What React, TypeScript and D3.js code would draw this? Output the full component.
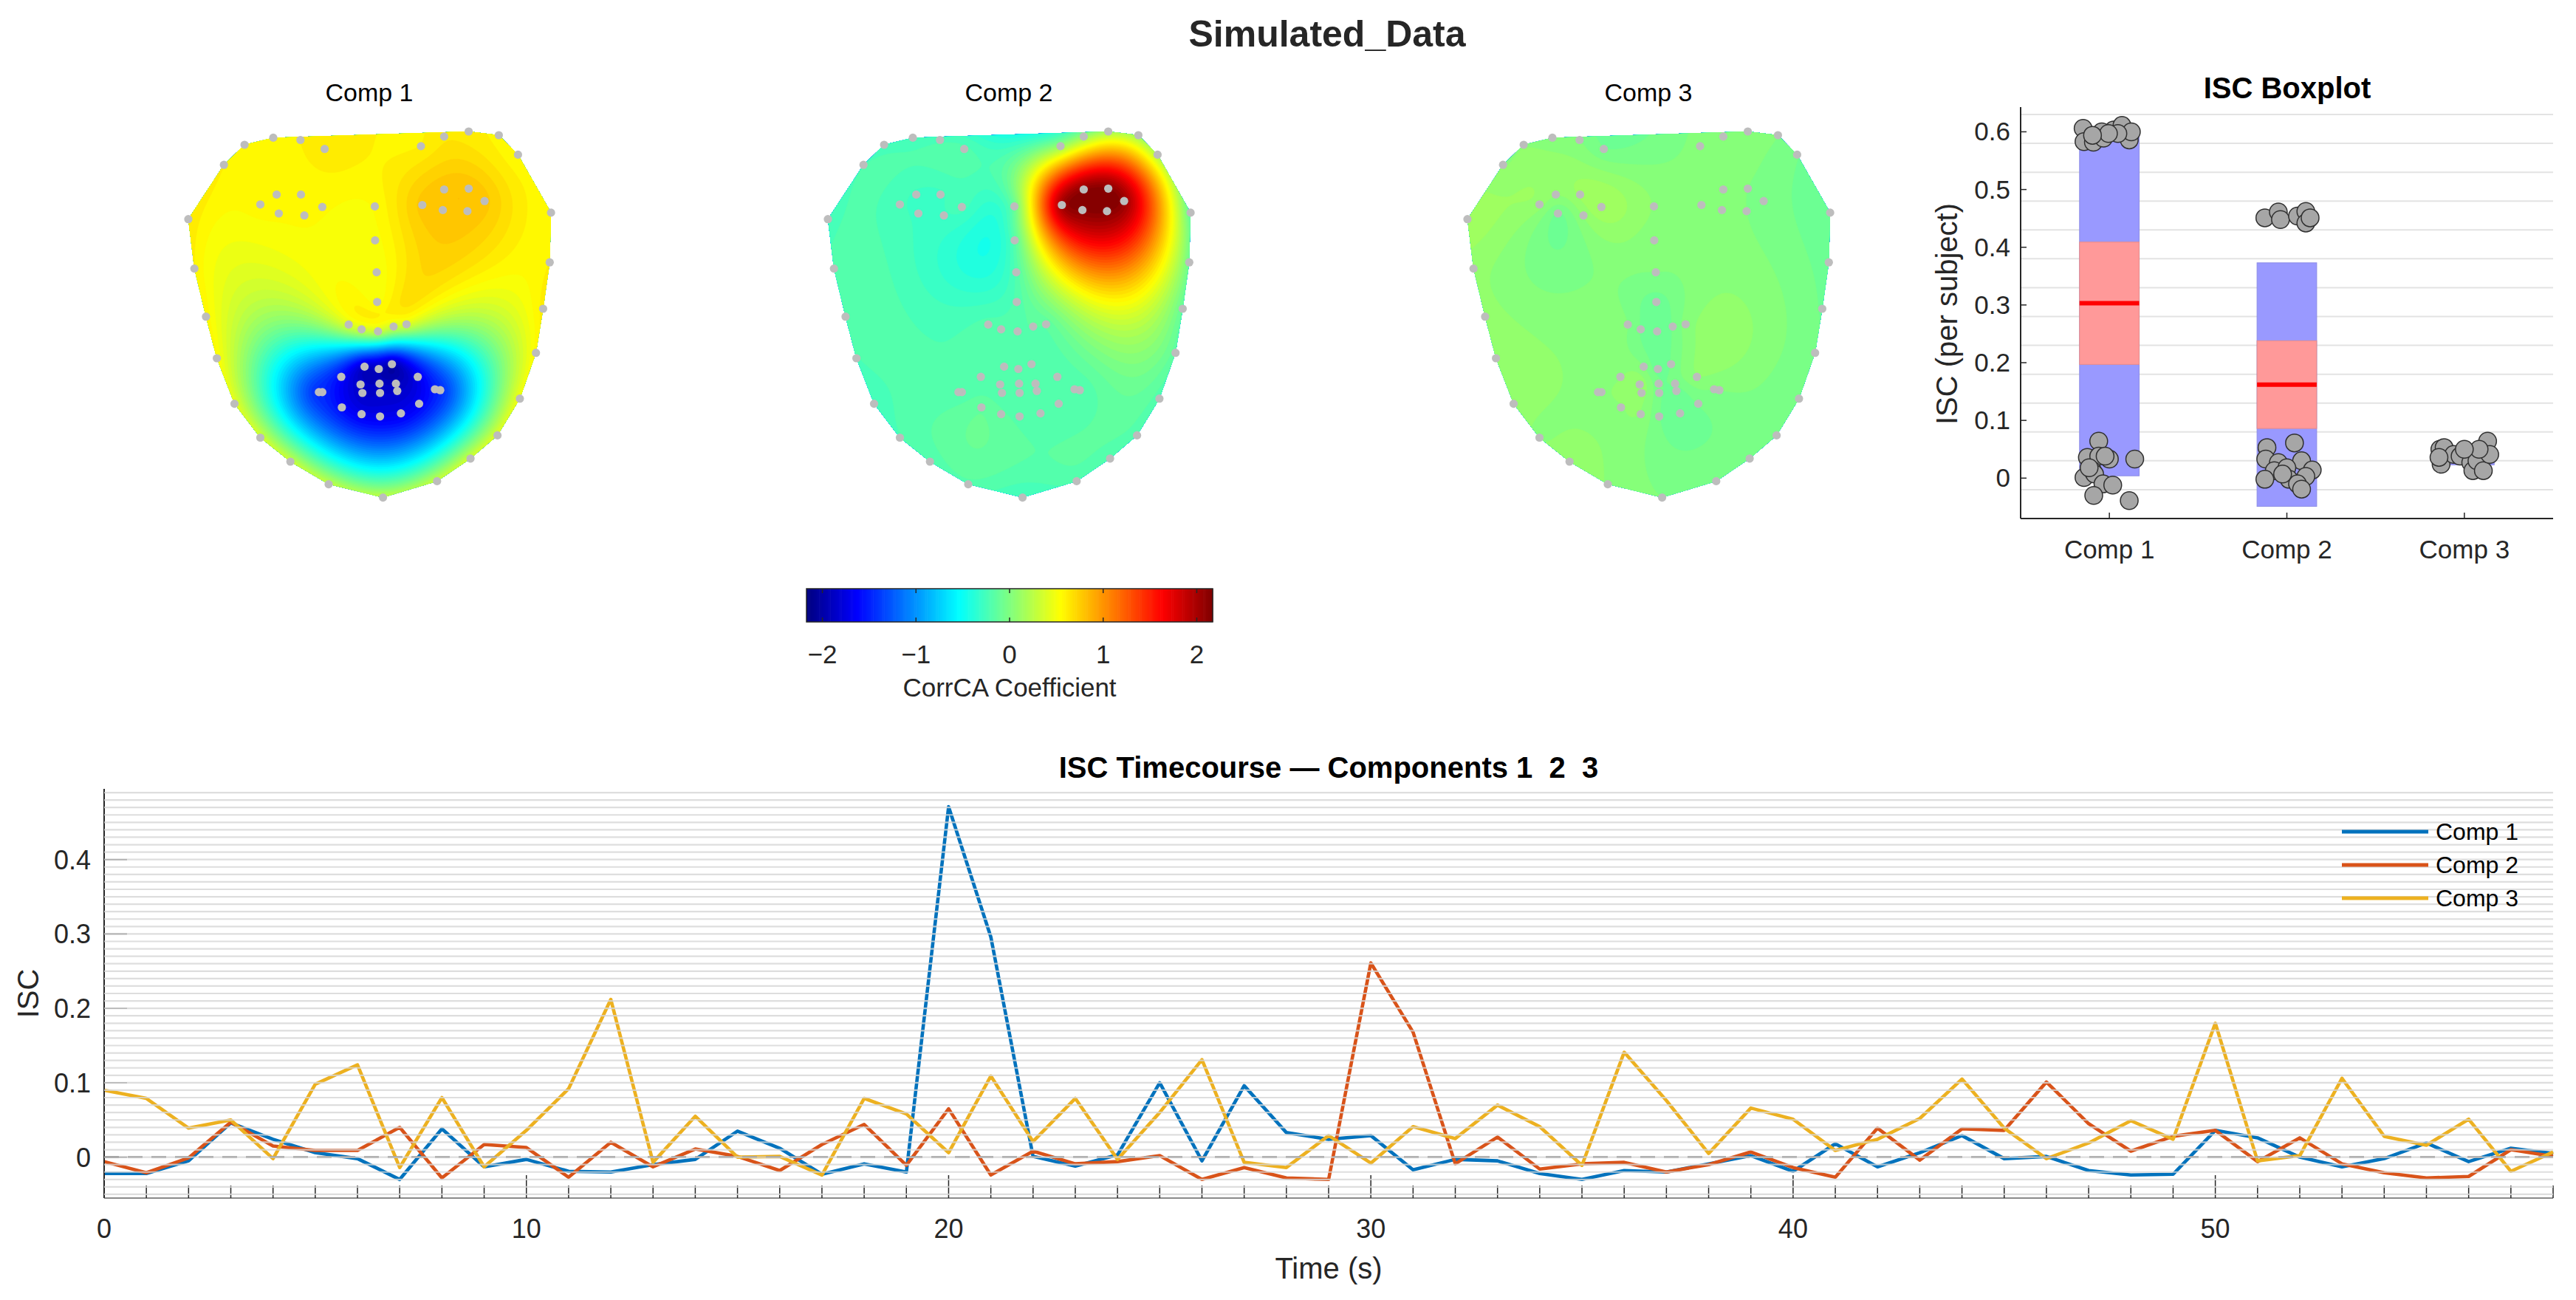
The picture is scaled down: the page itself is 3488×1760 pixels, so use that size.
import React, { useMemo } from 'react';
import * as d3 from 'd3';

// ---------------- DATA ----------------
// Facial landmark layout (68 points), in face units
const FACE_X = [25.0, 33.2, 48.9, 63.6, 87.5, 122.5, 163.2, 215.0, 288.6, 361.8, 407.1, 443.6, 473.9, 495.7, 505.4, 514.3, 516.1,
  73.2, 101.1, 140.0, 176.8, 209.6, 340.0, 371.4, 404.6, 445.4, 471.4,
  277.5, 277.9, 280.0, 280.7, 242.1, 259.6, 281.8, 302.9, 320.4,
  122.5, 144.6, 177.5, 206.4, 182.1, 147.5, 341.8, 371.4, 404.6, 426.1, 402.9, 369.6,
  206.4, 232.1, 263.6, 282.9, 300.7, 335.7, 366.1, 337.5, 312.9, 284.6, 259.6, 232.9,
  201.8, 258.2, 283.9, 306.1, 358.9, 307.9, 284.6, 260.7];
const FACE_Y = [206.7, 273.6, 338.7, 395.0, 456.6, 502.5, 535.0, 565.6, 583.6, 561.4, 530.8, 499.4, 449.7, 387.7, 328.0, 265.2, 197.9,
  133.2, 106.0, 96.4, 99.5, 111.7, 107.9, 94.9, 88.0, 93.0, 119.4,
  189.4, 235.4, 278.6, 318.8, 349.4, 355.9, 358.6, 352.1, 349.0,
  186.8, 173.4, 173.4, 190.2, 201.7, 199.0, 187.5, 166.5, 165.3, 182.2, 195.9, 194.4,
  440.9, 420.2, 406.4, 409.5, 403.0, 420.2, 438.2, 456.6, 469.6, 473.8, 470.7, 461.5,
  440.9, 430.5, 429.4, 429.4, 437.0, 439.3, 442.0, 442.0];

const FACE_COMP1 = [0.66, 0.6, 0.58, 0.55, 0.45, 0.38, 0.33, 0.3, 0.3, 0.32, 0.36, 0.42, 0.5, 0.57, 0.62, 0.6, 0.58,
  0.6, 0.58, 0.58, 0.6, 0.64, 0.6, 0.64, 0.62, 0.58, 0.56,
  0.55, 0.52, 0.5, 0.52, 0.38, 0.33, 0.3, 0.33, 0.38,
  0.56, 0.55, 0.55, 0.55, 0.55, 0.55, 0.78, 0.8, 0.8, 0.78, 0.8, 0.8,
  -1.45, -1.6, -1.85, -1.9, -1.95, -1.7, -1.45, -1.65, -1.7, -1.7, -1.7, -1.6,
  -1.45, -1.85, -1.9, -1.9, -1.5, -1.85, -1.85, -1.85];
const FACE_COMP2 = [-0.25, -0.2, -0.2, -0.22, -0.25, -0.22, -0.2, -0.18, -0.28, -0.2, -0.2, -0.2, -0.2, -0.15, -0.12, -0.08, -0.15,
  -0.22, -0.25, -0.26, -0.23, -0.2, 0.1, 0.1, 0.15, 0.1, 0.2,
  -0.1, -0.18, -0.2, -0.2, -0.2, -0.2, -0.18, -0.16, -0.15,
  -0.26, -0.28, -0.28, -0.25, -0.28, -0.28, 2.0, 2.1, 2.12, 2.05, 2.12, 2.12,
  -0.2, -0.2, -0.2, -0.2, -0.2, -0.2, -0.2, -0.2, -0.2, -0.18, -0.15, -0.12,
  -0.2, -0.2, -0.2, -0.2, -0.2, -0.2, -0.2, -0.2];
const FACE_COMP3 = [0.15, 0.08, 0.08, 0.1, 0.08, 0.05, 0.08, 0.05, 0.0, 0.0, -0.02, -0.02, -0.05, -0.05, -0.06, -0.08, -0.1,
  0.05, 0.05, 0.02, 0.0, -0.05, 0.02, 0.05, 0.02, 0.0, -0.05,
  0.05, 0.02, 0.0, -0.08, 0.0, -0.06, -0.1, -0.05, 0.02,
  0.08, 0.06, 0.12, 0.15, 0.06, -0.06, 0.02, 0.02, 0.0, -0.02, 0.0, 0.02,
  0.05, 0.05, 0.0, -0.08, -0.05, 0.05, 0.0, -0.05, -0.1, -0.05, 0.05, 0.05,
  0.05, 0.1, -0.04, -0.04, 0.0, -0.08, -0.04, 0.08];
const FACE_TITLES = ['Comp 1', 'Comp 2', 'Comp 3'];
const COLOR_LIMITS = [-2.17, 2.17];
const CBAR_TICKS = [-2, -1, 0, 1, 2];

// ISC timecourse
const TIME_S = [0, 1, 2, 3, 4, 5, 6, 7, 8, 9, 10, 11, 12, 13, 14, 15, 16, 17, 18, 19, 20, 21, 22, 23, 24, 25, 26, 27, 28, 29,
  30, 31, 32, 33, 34, 35, 36, 37, 38, 39, 40, 41, 42, 43, 44, 45, 46, 47, 48, 49, 50, 51, 52, 53, 54, 55, 56, 57, 58];
const ISC_COMP1 = [-0.022, -0.022, -0.005, 0.046, 0.024, 0.006, -0.002, -0.030, 0.038, -0.013, -0.003, -0.019, -0.020, -0.010,
  -0.003, 0.035, 0.012, -0.023, -0.009, -0.020, 0.471, 0.296, 0.001, -0.012, 0.003, 0.100, -0.005, 0.096, 0.033, 0.024,
  0.029, -0.017, -0.003, -0.005, -0.022, -0.030, -0.018, -0.020, -0.009, 0.002, -0.019, 0.018, -0.013, 0.006, 0.029,
  -0.002, 0.001, -0.018, -0.024, -0.023, 0.036, 0.026, 0.000, -0.013, -0.002, 0.019, -0.006, 0.012, 0.005];
const ISC_COMP2 = [-0.006, -0.021, -0.001, 0.047, 0.015, 0.009, 0.009, 0.040, -0.028, 0.017, 0.013, -0.027, 0.020, -0.013,
  0.011, 0.001, -0.018, 0.017, 0.044, -0.011, 0.065, -0.024, 0.008, -0.009, -0.006, 0.002, -0.030, -0.014, -0.028, -0.030,
  0.261, 0.168, -0.009, 0.027, -0.016, -0.009, -0.007, -0.020, -0.010, 0.007, -0.014, -0.027, 0.039, -0.004, 0.038,
  0.036, 0.101, 0.045, 0.008, 0.028, 0.036, -0.006, 0.026, -0.009, -0.021, -0.028, -0.026, 0.010, 0.001];
const ISC_COMP3 = [0.090, 0.079, 0.039, 0.050, -0.002, 0.098, 0.124, -0.014, 0.080, -0.013, 0.036, 0.092, 0.212, -0.007,
  0.055, 0.000, 0.001, -0.024, 0.079, 0.058, 0.006, 0.109, 0.021, 0.079, -0.003, 0.060, 0.131, -0.007, -0.014, 0.029,
  -0.008, 0.041, 0.025, 0.070, 0.041, -0.011, 0.141, 0.076, 0.005, 0.066, 0.051, 0.009, 0.024, 0.052, 0.105,
  0.039, -0.002, 0.019, 0.049, 0.024, 0.180, -0.005, 0.002, 0.106, 0.028, 0.016, 0.051, -0.019, 0.007];
const SERIES_NAMES = ['Comp 1', 'Comp 2', 'Comp 3'];
const TIME_X_TICKS = [0, 10, 20, 30, 40, 50];
const TIME_Y_TICKS = [0, 0.1, 0.2, 0.3, 0.4];

// ISC boxplot (per subject)
const BOX_CATEGORIES = ['Comp 1', 'Comp 2', 'Comp 3'];
const BOX_MEAN = [0.303, 0.162, 0.038];
const BOX_SD = [0.299, 0.211, 0.015];
const BOX_CI95 = [0.106, 0.076, 0.006];
const SUBJ_COMP1_JITTER = [-0.148, -0.143, -0.090, -0.043, -0.033, 0.024, 0.071, 0.100, 0.112, 0.124, 0.048, -0.005, -0.095,
  -0.060, -0.124, -0.060, 0.000, 0.143, -0.143, -0.095, -0.083, -0.036, 0.019, -0.088, 0.112, -0.024, -0.114];
const SUBJ_COMP1_ISC = [0.606, 0.583, 0.582, 0.600, 0.589, 0.603, 0.611, 0.593, 0.586, 0.600, 0.597, 0.597, 0.594,
  0.064, 0.036, 0.038, 0.033, 0.033, 0.001, 0.013, 0.007, -0.010, -0.012, -0.030, -0.039, 0.038, 0.018];
const SUBJ_COMP2_JITTER = [-0.124, -0.048, -0.036, 0.060, 0.107, 0.107, 0.131,
  -0.112, 0.043, -0.119, -0.048, 0.083, -0.071, 0.143, 0.000, -0.124, 0.012, 0.107, 0.060, 0.083, -0.024];
const SUBJ_COMP2_ISC = [0.451, 0.461, 0.448, 0.454, 0.462, 0.442, 0.451,
  0.053, 0.061, 0.033, 0.027, 0.030, 0.013, 0.014, 0.018, -0.002, -0.002, 0.003, -0.010, -0.019, 0.007];
const SUBJ_COMP3_JITTER = [-0.138, -0.114, -0.131, -0.060, -0.024, 0.036, 0.048, 0.071, 0.107, 0.131, 0.143, 0.083, -0.143, 0.000];
const SUBJ_COMP3_ISC = [0.050, 0.053, 0.024, 0.041, 0.038, 0.027, 0.013, 0.030, 0.013, 0.064, 0.041, 0.050, 0.036, 0.050];
const BOX_Y_TICKS = [0, 0.1, 0.2, 0.3, 0.4, 0.5, 0.6];

// ---------------- STYLE ----------------
const FONT = '"Liberation Sans", Arial, Helvetica, sans-serif';
const TXT = '#262626';
const SERIES_COLORS = ['#0072BD', '#D95319', '#EDB120'];

function jet(t: number) {
  const c = (x: number) => Math.max(0, Math.min(1, x));
  const r = c(1.5 - Math.abs(4 * t - 3));
  const g = c(1.5 - Math.abs(4 * t - 2));
  const b = c(1.5 - Math.abs(4 * t - 1));
  return d3.rgb(r * 255, g * 255, b * 255).formatHex();
}

// MATLAB griddata 'v4' (biharmonic spline)
function biharmonic(xs: number[], ys: number[], vs: number[]) {
  const n = xs.length;
  const g = (d: number) => (d > 0 ? d * d * (Math.log(d) - 1) : 0);
  const A: Float64Array[] = [];
  for (let i = 0; i < n; i++) {
    const row = new Float64Array(n + 1);
    for (let j = 0; j < n; j++) row[j] = g(Math.hypot(xs[i] - xs[j], ys[i] - ys[j]));
    row[n] = vs[i];
    A.push(row);
  }
  for (let c = 0; c < n; c++) {
    let p = c;
    for (let r = c + 1; r < n; r++) if (Math.abs(A[r][c]) > Math.abs(A[p][c])) p = r;
    const tmp = A[c]; A[c] = A[p]; A[p] = tmp;
    for (let r = 0; r < n; r++) {
      if (r === c) continue;
      const f = A[r][c] / A[c][c];
      if (f === 0) continue;
      for (let k = c; k <= n; k++) A[r][k] -= f * A[c][k];
    }
  }
  const w = new Float64Array(n);
  for (let i = 0; i < n; i++) w[i] = A[i][n] / A[i][i];
  return (x: number, y: number) => {
    let s = 0;
    for (let j = 0; j < n; j++) s += w[j] * g(Math.hypot(x - xs[j], y - ys[j]));
    return s;
  };
}

const FACE_LEFTS = [230, 1096, 1962];
const FACE_TOP = 90;

function FacePanel({ idx, values, title }: { idx: number; values: number[]; title: string }) {
  const left = FACE_LEFTS[idx];
  const xF = d3.scaleLinear().domain([0, 560]).range([left, left + 560]);
  const yF = d3.scaleLinear().domain([0, 600]).range([FACE_TOP, FACE_TOP + 600]);
  const { bands, hullPath, baseColor } = useMemo(() => {
    const f = biharmonic(FACE_X, FACE_Y, values);
    const U0 = 18, V0 = 82, STEP = 2;
    const nx = Math.ceil((524 - U0) / STEP), ny = Math.ceil((592 - V0) / STEP);
    const grid = new Array(nx * ny);
    for (let j = 0; j < ny; j++)
      for (let i = 0; i < nx; i++) grid[j * nx + i] = f(U0 + (i + 0.5) * STEP, V0 + (j + 0.5) * STEP);
    const N = 80;
    const span = COLOR_LIMITS[1] - COLOR_LIMITS[0];
    const thr = d3.range(1, N).map((k) => COLOR_LIMITS[0] + (k * span) / N);
    const cs = d3.contours().size([nx, ny]).thresholds(thr)(grid);
    const proj = d3.geoTransform({
      point(x: number, y: number) {
        (this as any).stream.point(xF(U0 + x * STEP), yF(V0 + y * STEP));
      },
    });
    const path = d3.geoPath(proj as any);
    const bands = cs.map((c, k) => ({ d: path(c as any) || '', fill: jet((k + 1.5) / N) }));
    const pts = FACE_X.map((x, i) => [xF(x), yF(FACE_Y[i])] as [number, number]);
    const hull = d3.polygonHull(pts) || [];
    const hullPath = 'M' + hull.map((p) => p.join(',')).join('L') + 'Z';
    return { bands, hullPath, baseColor: jet(0.5 / N) };
  }, [idx, values]);
  const cx = xF(270);
  return (
    <g>
      <text x={cx} y={137} textAnchor="middle" fontSize={34} fill="#000" fontFamily={FONT}>{title}</text>
      <clipPath id={`faceclip${idx}`}><path d={hullPath} /></clipPath>
      <g clipPath={`url(#faceclip${idx})`}>
        <path d={hullPath} fill={baseColor} />
        {bands.map((b, k) => b.d ? <path key={k} d={b.d} fill={b.fill} stroke={b.fill} strokeWidth={0.6} /> : null)}
      </g>
      {FACE_X.map((x, i) => (
        <circle key={i} cx={xF(x)} cy={yF(FACE_Y[i])} r={5.6} fill="#bdbdbd" />
      ))}
    </g>
  );
}

function Colorbar() {
  const x0 = 1092, x1 = 1642, y0 = 797, y1 = 842;
  const xC = d3.scaleLinear().domain(COLOR_LIMITS).range([x0, x1]);
  const n = 256;
  const span = COLOR_LIMITS[1] - COLOR_LIMITS[0];
  const slices = d3.range(n).map((k) => COLOR_LIMITS[0] + (k * span) / n);
  return (
    <g>
      {slices.map((v, k) => (
        <rect key={k} x={xC(v)} y={y0} width={xC(v + span / n) - xC(v) + 0.6} height={y1 - y0} fill={jet((k + 0.5) / n)} />
      ))}
      <rect x={x0} y={y0} width={x1 - x0} height={y1 - y0} fill="none" stroke={TXT} strokeWidth={1.5} />
      {CBAR_TICKS.map((t) => (
        <g key={t}>
          <line x1={xC(t)} x2={xC(t)} y1={y1} y2={y1 - 6} stroke={TXT} strokeWidth={1.5} />
          <line x1={xC(t)} x2={xC(t)} y1={y0} y2={y0 + 6} stroke={TXT} strokeWidth={1.5} />
          <text x={xC(t)} y={898} textAnchor="middle" fontSize={35} fill={TXT} fontFamily={FONT}>
            {t < 0 ? '\u2212' + Math.abs(t) : String(t)}
          </text>
        </g>
      ))}
      <text x={(x0 + x1) / 2} y={943} textAnchor="middle" fontSize={35} fill={TXT} fontFamily={FONT}>CorrCA Coefficient</text>
    </g>
  );
}

function Boxplot() {
  const L = 2736, R = 3457, T = 155, B = 702;
  const xB = d3.scaleLinear().domain([0.5, 3.5]).range([L, R]);
  const yB = d3.scaleLinear().domain([-0.07, 0.63]).range([B, T]);
  const grid = d3.range(0, 14).map((k) => -0.02 + k * 0.05);
  const jit = [SUBJ_COMP1_JITTER, SUBJ_COMP2_JITTER, SUBJ_COMP3_JITTER];
  const isc = [SUBJ_COMP1_ISC, SUBJ_COMP2_ISC, SUBJ_COMP3_ISC];
  const hw = 0.168;
  return (
    <g fontFamily={FONT}>
      {grid.map((g, i) => (
        <line key={i} x1={L} x2={R} y1={yB(g)} y2={yB(g)} stroke="#e3e3e3" strokeWidth={2} />
      ))}
      {BOX_CATEGORIES.map((c, i) => {
        const cx = i + 1;
        const m = BOX_MEAN[i];
        return (
          <g key={c}>
            <rect x={xB(cx - hw)} y={yB(m + BOX_SD[i])} width={xB(cx + hw) - xB(cx - hw)}
              height={yB(m - BOX_SD[i]) - yB(m + BOX_SD[i])} fill="#9999ff" stroke="#8c8ce6" strokeWidth={1} />
            <rect x={xB(cx - hw)} y={yB(m + BOX_CI95[i])} width={xB(cx + hw) - xB(cx - hw)}
              height={yB(m - BOX_CI95[i]) - yB(m + BOX_CI95[i])} fill="#ff9999" stroke="#e68c8c" strokeWidth={1} />
            <line x1={xB(cx - hw)} x2={xB(cx + hw)} y1={yB(m)} y2={yB(m)} stroke="#ff0000" strokeWidth={6} />
          </g>
        );
      })}
      {BOX_CATEGORIES.map((c, i) => (
        <g key={'p' + c}>
          {isc[i].map((v, k) => (
            <circle key={k} cx={xB(i + 1 + jit[i][k])} cy={yB(v)} r={12} fill="#a6a6a6" stroke="#303030" strokeWidth={1.5} />
          ))}
        </g>
      ))}
      <line x1={L} x2={L} y1={T - 10} y2={B} stroke={TXT} strokeWidth={2} />
      <line x1={L} x2={R} y1={B} y2={B} stroke={TXT} strokeWidth={2} />
      {BOX_Y_TICKS.map((t) => (
        <g key={t}>
          <line x1={L} x2={L + 8} y1={yB(t)} y2={yB(t)} stroke={TXT} strokeWidth={1.5} />
          <text x={L - 14} y={yB(t) + 12} textAnchor="end" fontSize={35} fill={TXT}>{String(t)}</text>
        </g>
      ))}
      {BOX_CATEGORIES.map((c, i) => (
        <g key={'t' + c}>
          <line x1={xB(i + 1)} x2={xB(i + 1)} y1={B} y2={B - 8} stroke={TXT} strokeWidth={1.5} />
          <text x={xB(i + 1)} y={756} textAnchor="middle" fontSize={35} fill={TXT}>{c}</text>
        </g>
      ))}
      <text transform={`translate(2650,425) rotate(-90)`} textAnchor="middle" fontSize={40} fill={TXT}>ISC (per subject)</text>
      <text x={3097} y={133} textAnchor="middle" fontSize={40} fontWeight="bold" fill="#000">ISC Boxplot</text>
    </g>
  );
}

function Timecourse() {
  const L = 141, R = 3457, T = 1068, B = 1622;
  const xT = d3.scaleLinear().domain([0, 58]).range([L, R]);
  const yT = d3.scaleLinear().domain([-0.055, 0.495]).range([B, T]);
  const series = [ISC_COMP1, ISC_COMP2, ISC_COMP3];
  const line = d3.line<number>().x((_, i) => xT(TIME_S[i])).y((d) => yT(d));
  const grid = d3.range(-5, 50).map((k) => k / 100);
  const minor = TIME_S.filter((t) => t % 10 !== 0);
  return (
    <g fontFamily={FONT}>
      {series.map((s, i) => (
        <path key={i} d={line(s) || ''} fill="none" stroke={SERIES_COLORS[i]} strokeWidth={4.6} strokeLinejoin="round" />
      ))}
      <line x1={L} x2={R} y1={yT(0)} y2={yT(0)} stroke="#6a6a6a" strokeWidth={2.5} strokeDasharray="20 12" />
      <line x1={L} x2={L} y1={T} y2={B} stroke={TXT} strokeWidth={2} />
      <line x1={L} x2={R} y1={B} y2={B} stroke="#8a8a8a" strokeWidth={2} />
      {TIME_Y_TICKS.map((t) => (
        <g key={t}>
          <line x1={L} x2={L + 31} y1={yT(t)} y2={yT(t)} stroke={TXT} strokeWidth={1.5} />
          <text x={123} y={yT(t) + 13} textAnchor="end" fontSize={36} fill={TXT}>{String(t)}</text>
        </g>
      ))}
      {TIME_X_TICKS.map((t) => (
        <g key={t}>
          <line x1={xT(t)} x2={xT(t)} y1={B} y2={B - 31} stroke={TXT} strokeWidth={1.5} />
          <text x={xT(t)} y={1676} textAnchor="middle" fontSize={36} fill={TXT}>{String(t)}</text>
        </g>
      ))}
      {minor.map((t) => (
        <line key={t} x1={xT(t)} x2={xT(t)} y1={B} y2={B - 17} stroke={TXT} strokeWidth={1.5} />
      ))}
      {grid.map((g, i) => (
        <line key={i} x1={L} x2={R} y1={yT(g)} y2={yT(g)} stroke="#d6d6d6" strokeWidth={2.2} opacity={0.8} />
      ))}
      {SERIES_NAMES.map((n, i) => (
        <g key={n}>
          <line x1={3171} x2={3288} y1={1126 + i * 45} y2={1126 + i * 45} stroke={SERIES_COLORS[i]} strokeWidth={5} />
          <text x={3298} y={1126 + i * 45 + 11} fontSize={32} fill="#000">{n}</text>
        </g>
      ))}
      <text x={(L + R) / 2} y={1731} textAnchor="middle" fontSize={40} fill={TXT}>Time (s)</text>
      <text transform={`translate(52,1345) rotate(-90)`} textAnchor="middle" fontSize={40} fill={TXT}>ISC</text>
      <text x={(L + R) / 2} y={1053} textAnchor="middle" fontSize={40} fontWeight="bold" fill="#000" style={{ whiteSpace: 'pre' }}>
        {'ISC Timecourse \u2014 Components 1  2  3'}
      </text>
    </g>
  );
}

export default function App() {
  const faces = [FACE_COMP1, FACE_COMP2, FACE_COMP3];
  return (
    <svg width={3488} height={1760} style={{ position: 'absolute', left: 0, top: 0, background: '#fff' }}
      xmlns="http://www.w3.org/2000/svg">
      <rect x={0} y={0} width={3488} height={1760} fill="#fff" />
      <text x={1797} y={63} textAnchor="middle" fontSize={50} fontWeight="bold" fill="#262626" fontFamily={FONT}>Simulated_Data</text>
      {faces.map((v, i) => <FacePanel key={i} idx={i} values={v} title={FACE_TITLES[i]} />)}
      <Colorbar />
      <Boxplot />
      <Timecourse />
    </svg>
  );
}
